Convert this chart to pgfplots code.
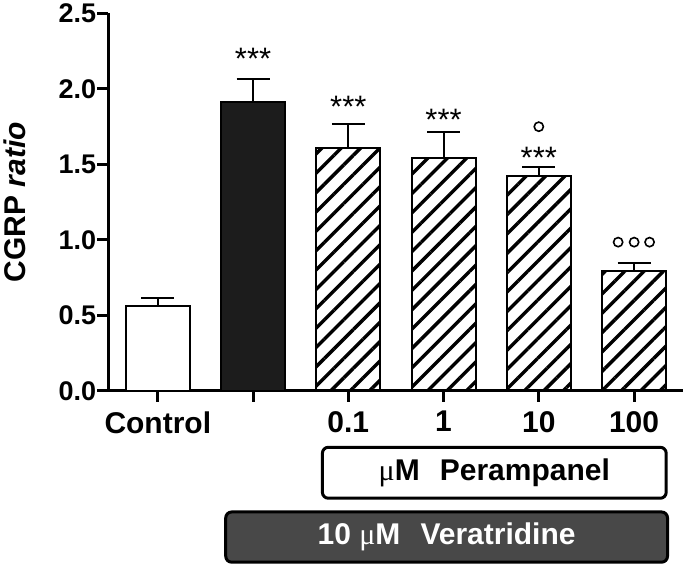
\documentclass[border=0pt]{standalone}
\usepackage{fontspec}
\setmainfont{Liberation Sans}
\newfontfamily\mufont{Liberation Serif}
\usepackage{pgfplots}
\pgfplotsset{compat=1.18}
\usetikzlibrary{patterns.meta}
\definecolor{barblack}{RGB}{28,28,28}
\definecolor{veragray}{RGB}{72,72,72}
\begin{document}
\begin{tikzpicture}
\begin{axis}[
  scale only axis, width=575pt, height=377.5pt,
  xmin=-0.52, xmax=5.514, ymin=0, ymax=2.5,
  clip=false,
  axis x line=bottom, axis y line=left,
  axis line style={line width=3pt, -},
  tick style={line width=3pt, black},
  major tick length=11pt, tick align=outside,
  xtick={0,1,2,3,4,5},
  xticklabels={Control,,0.1,1,10,100},
  ytick={0,0.5,1,1.5,2,2.5},
  xticklabel style={font=\fontsize{30}{30}\selectfont\bfseries, yshift=-6pt},
  yticklabel style={font=\fontsize{27}{27}\selectfont\bfseries, inner sep=1pt,
    /pgf/number format/assume math mode=true,
    /pgf/number format/fixed, /pgf/number format/fixed zerofill,
    /pgf/number format/precision=1},
  ylabel={CGRP \textit{ratio}},
  ylabel style={font=\fontsize{30}{32}\selectfont\bfseries, at={(axis description cs:0,0.5)}, anchor=center, yshift=94pt},
]
% bounding box
\path (rel axis cs:0,0) ++(-108pt,-176pt) rectangle ++(685pt,567pt);

\addplot[ybar, bar width=64pt, bar shift=0pt, draw=black, line width=2pt, fill=white,
  error bars/.cd, y dir=plus, y explicit, error bar style={line width=2pt, black},
  error mark options={rotate=90, mark size=16.5pt, line width=2pt, black}]
  coordinates {(0,0.561) +- (0,0.051)};
\addplot[ybar, bar width=64pt, bar shift=0pt, draw=black, line width=2pt, fill=barblack,
  error bars/.cd, y dir=plus, y explicit, error bar style={line width=2pt, black},
  error mark options={rotate=90, mark size=16.5pt, line width=2pt, black}]
  coordinates {(1,1.914) +- (0,0.150)};
\addplot[ybar, bar width=64pt, bar shift=0pt, draw=black, line width=2pt,
  pattern={Lines[angle=45, distance=13.7pt, line width=3.4pt]}, pattern color=black,
  error bars/.cd, y dir=plus, y explicit, error bar style={line width=2pt, black},
  error mark options={rotate=90, mark size=16.5pt, line width=2pt, black}]
  coordinates {(2,1.610) +- (0,0.160) (3,1.541) +- (0,0.171) (4,1.421) +- (0,0.061) (5,0.791) +- (0,0.058)};

% significance marks
\node[font=\fontsize{31}{31}\selectfont, anchor=base] at (axis cs:1,2.132) {***};
\node[font=\fontsize{31}{31}\selectfont, anchor=base] at (axis cs:2,1.810) {***};
\node[font=\fontsize{31}{31}\selectfont, anchor=base] at (axis cs:3,1.722) {***};
\node[font=\fontsize{31}{31}\selectfont, anchor=base] at (axis cs:4,1.475) {***};
\draw[line width=1.6pt] (axis cs:4,1.750) circle[radius=4.6pt];
\draw[line width=1.6pt] (axis cs:4.833,0.985) circle[radius=4.6pt];
\draw[line width=1.6pt] (axis cs:5.001,0.985) circle[radius=4.6pt];
\draw[line width=1.6pt] (axis cs:5.163,0.985) circle[radius=4.6pt];

% treatment boxes
\draw[line width=3pt, rounded corners=6pt, fill=white]
  (rel axis cs:0,0) ++(214.2pt,-56.5pt) rectangle ++(344pt,-51pt)
  node[midway, font=\fontsize{30}{30}\selectfont\bfseries] {{\mufont\mdseries μ}M\hspace{0.67em}Perampanel};
\draw[line width=3pt, rounded corners=6pt, fill=veragray]
  (rel axis cs:0,0) ++(117.5pt,-121.2pt) rectangle ++(442pt,-50.3pt)
  node[midway, font=\fontsize{30}{30}\selectfont\bfseries, text=white] {10 {\mufont\mdseries μ}M\hspace{0.67em}Veratridine};
\end{axis}
\end{tikzpicture}
\end{document}
